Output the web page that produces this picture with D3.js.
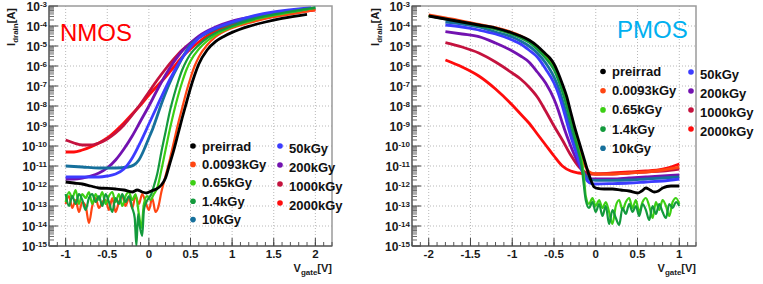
<!DOCTYPE html>
<html>
<head>
<meta charset="utf-8">
<script src="https://cdn.jsdelivr.net/npm/d3@7"></script>
<style>
  body { margin: 0; background: #fff; }
  svg { display: block; }
  text { font-family: "Liberation Sans", Arial, Helvetica, sans-serif; }
</style>
</head>
<body>
<svg id="chart" width="763" height="284"></svg>
<script>
// dose labels, in legend order
var doses = ["preirrad", "0.0093kGy", "0.65kGy", "1.4kGy", "10kGy", "50kGy", "200kGy", "1000kGy", "2000kGy"];
var colors = ["#000000", "#ff4512", "#3ccf14", "#139a3c", "#16709c", "#3c3cff", "#7212b0", "#c4123e", "#ff0c0c"];
var drawOrder = [8, 7, 6, 4, 5, 1, 2, 3, 0];

var xTicksN = [-1, -0.5, 0, 0.5, 1, 1.5, 2];
var xTicksP = [-2, -1.5, -1, -0.5, 0, 0.5, 1];
var yExps = [-15, -14, -13, -12, -11, -10, -9, -8, -7, -6, -5, -4, -3];

// NMOS: [Vgate, log10(Idrain)]
var nmosPre = [[-1,-11.8],[-0.9,-11.85],[-0.8,-11.9],[-0.7,-12.0],[-0.6,-12.1],[-0.5,-12.12],[-0.4,-12.15],[-0.3,-12.2],[-0.2,-12.3],[-0.14,-12.2],[-0.08,-12.3],[-0.03,-12.35],[0.03,-12.25],[0.09,-12.15],[0.15,-11.95],[0.2,-11.6],[0.25,-10.9],[0.3,-10.2],[0.35,-9.4],[0.4,-8.6],[0.45,-7.85],[0.5,-7.1],[0.55,-6.45],[0.6,-5.9],[0.7,-5.2],[0.8,-4.78],[0.9,-4.52],[1.0,-4.32],[1.2,-4.02],[1.4,-3.8],[1.6,-3.62],[1.9,-3.42]];
var nmos0093 = [[-1,-12.9],[-0.96,-12.5],[-0.92,-13.1],[-0.88,-12.7],[-0.84,-13.3],[-0.8,-12.8],[-0.76,-13.0],[-0.72,-13.85],[-0.68,-13.0],[-0.64,-12.6],[-0.6,-13.1],[-0.56,-12.8],[-0.52,-12.7],[-0.48,-13.2],[-0.44,-12.6],[-0.4,-13.3],[-0.36,-12.8],[-0.32,-12.5],[-0.28,-13.0],[-0.24,-12.6],[-0.2,-13.1],[-0.16,-12.5],[-0.12,-12.9],[-0.08,-12.4],[-0.04,-12.8],[0,-13.2],[0.04,-12.6],[0.08,-13.3],[0.11,-13.1],[0.15,-12.3],[0.2,-11.5],[0.25,-10.7],[0.3,-9.8],[0.35,-8.9],[0.4,-8.1],[0.45,-7.3],[0.5,-6.6],[0.55,-6.0],[0.6,-5.55],[0.7,-4.95],[0.8,-4.55],[1.0,-4.1],[1.2,-3.85],[1.5,-3.55],[1.8,-3.35],[2.0,-3.2]];
var nmos065 = [[-1,-12.8],[-0.96,-12.3],[-0.92,-12.6],[-0.88,-12.2],[-0.84,-12.9],[-0.8,-12.4],[-0.76,-12.6],[-0.72,-12.3],[-0.68,-12.9],[-0.64,-12.4],[-0.6,-12.7],[-0.56,-12.3],[-0.52,-12.9],[-0.48,-12.5],[-0.44,-12.3],[-0.4,-12.8],[-0.36,-12.4],[-0.32,-13.0],[-0.28,-12.5],[-0.24,-12.3],[-0.2,-12.7],[-0.16,-12.4],[-0.12,-13.4],[-0.09,-14.1],[-0.06,-12.9],[-0.02,-12.5],[0.02,-12.7],[0.06,-12.4],[0.1,-12.1],[0.15,-11.2],[0.2,-10.2],[0.25,-9.2],[0.3,-8.3],[0.35,-7.5],[0.4,-6.8],[0.45,-6.2],[0.5,-5.75],[0.6,-5.15],[0.7,-4.75],[0.8,-4.45],[1.0,-4.05],[1.3,-3.65],[1.6,-3.4],[2.0,-3.1]];
var nmos14 = [[-1,-12.4],[-0.96,-13.0],[-0.92,-12.5],[-0.88,-12.9],[-0.84,-12.4],[-0.8,-12.7],[-0.76,-13.2],[-0.72,-12.6],[-0.68,-12.4],[-0.64,-12.8],[-0.6,-12.5],[-0.56,-13.0],[-0.52,-12.4],[-0.48,-12.8],[-0.44,-13.3],[-0.4,-12.6],[-0.36,-12.9],[-0.32,-12.4],[-0.28,-12.8],[-0.24,-12.5],[-0.2,-13.1],[-0.17,-13.6],[-0.15,-15.0],[-0.13,-13.4],[-0.11,-14.0],[-0.08,-14.5],[-0.06,-13.2],[-0.03,-12.8],[0,-12.6],[0.03,-12.4],[0.06,-12.0],[0.1,-11.4],[0.15,-10.3],[0.2,-9.3],[0.25,-8.3],[0.3,-7.5],[0.35,-6.8],[0.4,-6.2],[0.45,-5.75],[0.5,-5.4],[0.6,-4.95],[0.7,-4.6],[0.8,-4.35],[1.0,-4.0],[1.3,-3.6],[1.6,-3.35],[2.0,-3.08]];
var nmos10 = [[-1,-11.0],[-0.8,-11.05],[-0.6,-11.1],[-0.4,-11.1],[-0.25,-11.05],[-0.18,-10.95],[-0.12,-10.7],[-0.06,-10.2],[0,-9.6],[0.05,-9.1],[0.1,-8.5],[0.15,-7.9],[0.2,-7.35],[0.25,-6.85],[0.3,-6.4],[0.35,-6.0],[0.4,-5.6],[0.45,-5.25],[0.5,-4.95],[0.6,-4.6],[0.8,-4.15],[1.0,-3.85],[1.3,-3.55],[1.6,-3.35],[2.0,-3.1]];
var nmos50 = [[-1,-11.55],[-0.8,-11.55],[-0.6,-11.55],[-0.5,-11.5],[-0.4,-11.4],[-0.3,-11.15],[-0.2,-10.6],[-0.1,-9.8],[0,-8.9],[0.1,-8.0],[0.2,-7.1],[0.3,-6.3],[0.4,-5.6],[0.5,-5.05],[0.6,-4.6],[0.7,-4.3],[0.8,-4.1],[1.0,-3.8],[1.2,-3.55],[1.5,-3.3],[1.8,-3.15],[1.95,-3.1]];
var nmos200 = [[-1,-11.65],[-0.9,-11.65],[-0.8,-11.6],[-0.7,-11.5],[-0.6,-11.35],[-0.5,-11.1],[-0.4,-10.7],[-0.3,-10.15],[-0.2,-9.5],[-0.1,-8.75],[0,-8.0],[0.1,-7.2],[0.2,-6.45],[0.3,-5.8],[0.4,-5.25],[0.5,-4.85],[0.6,-4.5],[0.8,-4.05],[1.0,-3.75],[1.3,-3.5],[1.6,-3.3],[1.95,-3.12]];
var nmos1000 = [[-1,-9.7],[-0.9,-9.85],[-0.8,-9.95],[-0.7,-9.95],[-0.6,-9.85],[-0.5,-9.65],[-0.4,-9.35],[-0.3,-8.95],[-0.2,-8.45],[-0.1,-7.9],[0,-7.3],[0.1,-6.7],[0.2,-6.15],[0.3,-5.65],[0.4,-5.2],[0.5,-4.85],[0.6,-4.55],[0.8,-4.15],[1.0,-3.85],[1.3,-3.55],[1.6,-3.35],[1.95,-3.15]];
var nmos2000 = [[-1,-10.3],[-0.9,-10.3],[-0.8,-10.2],[-0.7,-10.05],[-0.6,-9.85],[-0.5,-9.6],[-0.4,-9.25],[-0.3,-8.85],[-0.2,-8.4],[-0.1,-7.95],[0,-7.45],[0.1,-7.0],[0.2,-6.55],[0.3,-6.05],[0.4,-5.55],[0.5,-5.15],[0.6,-4.8],[0.7,-4.5],[0.8,-4.28],[1.0,-3.95],[1.2,-3.75],[1.5,-3.5],[1.8,-3.3],[2.0,-3.2]];

// PMOS: [Vgate, log10(Idrain)]
var pmosPre = [[-2,-3.5],[-1.8,-3.65],[-1.6,-3.8],[-1.4,-3.95],[-1.2,-4.1],[-1.0,-4.35],[-0.9,-4.5],[-0.8,-4.7],[-0.7,-5.0],[-0.6,-5.4],[-0.55,-5.6],[-0.5,-5.9],[-0.45,-6.35],[-0.4,-6.9],[-0.35,-7.5],[-0.3,-8.3],[-0.25,-9.1],[-0.2,-9.8],[-0.15,-10.5],[-0.1,-11.2],[-0.05,-11.8],[-0.02,-12.05],[0.02,-12.12],[0.1,-12.15],[0.2,-12.15],[0.3,-12.2],[0.4,-12.25],[0.5,-12.35],[0.55,-12.25],[0.6,-12.1],[0.65,-12.2],[0.7,-12.3],[0.75,-12.25],[0.8,-12.1],[0.9,-12.0],[1.0,-12.0]];
var pmos0093 = [[-2,-3.45],[-1.8,-3.6],[-1.6,-3.75],[-1.4,-3.92],[-1.2,-4.08],[-1.0,-4.33],[-0.9,-4.5],[-0.8,-4.72],[-0.7,-5.05],[-0.6,-5.5],[-0.5,-6.05],[-0.45,-6.5],[-0.4,-7.1],[-0.35,-7.8],[-0.3,-8.55],[-0.25,-9.3],[-0.2,-10.05],[-0.15,-10.75],[-0.1,-11.2],[-0.05,-11.35],[0,-11.4],[0.2,-11.4],[0.4,-11.35],[0.6,-11.3],[0.8,-11.2],[1.0,-11.05]];
var pmos065 = [[-2,-3.5],[-1.8,-3.65],[-1.6,-3.8],[-1.4,-3.97],[-1.2,-4.15],[-1.0,-4.4],[-0.9,-4.57],[-0.8,-4.78],[-0.7,-5.1],[-0.6,-5.55],[-0.5,-6.1],[-0.45,-6.55],[-0.4,-7.15],[-0.35,-7.85],[-0.3,-8.65],[-0.25,-9.45],[-0.2,-10.25],[-0.16,-10.9],[-0.14,-11.6],[-0.12,-12.5],[-0.08,-12.9],[-0.04,-12.6],[0,-13.0],[0.04,-12.7],[0.08,-13.1],[0.12,-12.8],[0.16,-13.3],[0.2,-13.9],[0.24,-13.0],[0.28,-12.7],[0.32,-13.2],[0.36,-12.8],[0.4,-12.6],[0.44,-13.1],[0.48,-12.7],[0.52,-13.3],[0.56,-12.8],[0.6,-12.6],[0.64,-13.0],[0.68,-13.6],[0.72,-12.8],[0.76,-13.2],[0.8,-12.7],[0.84,-13.0],[0.88,-13.5],[0.92,-12.8],[0.96,-12.6],[1.0,-12.9]];
var pmos14 = [[-2,-3.5],[-1.8,-3.66],[-1.6,-3.82],[-1.4,-3.99],[-1.2,-4.17],[-1.0,-4.42],[-0.9,-4.6],[-0.8,-4.82],[-0.7,-5.17],[-0.6,-5.62],[-0.5,-6.2],[-0.45,-6.7],[-0.4,-7.3],[-0.35,-8.0],[-0.3,-8.8],[-0.25,-9.6],[-0.2,-10.4],[-0.17,-11.0],[-0.15,-11.7],[-0.12,-12.7],[-0.08,-13.1],[-0.04,-12.8],[0,-13.3],[0.04,-12.9],[0.08,-13.5],[0.12,-13.0],[0.16,-13.9],[0.2,-13.2],[0.24,-13.6],[0.28,-13.95],[0.32,-13.1],[0.36,-13.4],[0.4,-12.9],[0.44,-13.3],[0.48,-13.0],[0.52,-13.5],[0.56,-12.9],[0.6,-13.2],[0.64,-13.7],[0.68,-13.0],[0.72,-13.4],[0.76,-12.9],[0.8,-13.3],[0.84,-13.6],[0.88,-12.9],[0.92,-13.1],[0.96,-12.8],[1.0,-13.0]];
var pmos10 = [[-1.8,-3.8],[-1.6,-3.9],[-1.4,-4.05],[-1.2,-4.3],[-1.0,-4.55],[-0.9,-4.75],[-0.8,-5.0],[-0.7,-5.35],[-0.6,-5.85],[-0.5,-6.55],[-0.45,-7.05],[-0.4,-7.7],[-0.35,-8.4],[-0.3,-9.2],[-0.25,-9.95],[-0.2,-10.65],[-0.15,-11.3],[-0.1,-11.6],[-0.05,-11.7],[0,-11.72],[0.2,-11.72],[0.4,-11.7],[0.6,-11.65],[0.8,-11.6],[1.0,-11.55]];
var pmos50 = [[-1.8,-3.95],[-1.6,-4.05],[-1.4,-4.2],[-1.2,-4.4],[-1.0,-4.7],[-0.9,-4.9],[-0.8,-5.2],[-0.7,-5.55],[-0.6,-6.15],[-0.5,-6.85],[-0.45,-7.35],[-0.4,-8.0],[-0.35,-8.75],[-0.3,-9.5],[-0.25,-10.15],[-0.2,-10.8],[-0.15,-11.4],[-0.1,-11.75],[-0.05,-11.88],[0,-11.9],[0.2,-11.88],[0.4,-11.85],[0.6,-11.8],[0.8,-11.75],[1.0,-11.65]];
var pmos200 = [[-1.8,-4.28],[-1.6,-4.4],[-1.4,-4.53],[-1.2,-4.85],[-1.0,-5.25],[-0.9,-5.5],[-0.8,-5.8],[-0.7,-6.3],[-0.6,-6.85],[-0.5,-7.65],[-0.45,-8.2],[-0.4,-8.85],[-0.35,-9.45],[-0.3,-10.0],[-0.25,-10.5],[-0.2,-10.95],[-0.15,-11.3],[-0.1,-11.55],[-0.05,-11.65],[0,-11.65],[0.2,-11.65],[0.4,-11.6],[0.6,-11.55],[0.8,-11.5],[1.0,-11.45]];
var pmos1000 = [[-1.8,-4.83],[-1.6,-5.05],[-1.4,-5.35],[-1.2,-5.8],[-1.0,-6.35],[-0.9,-6.65],[-0.8,-7.05],[-0.7,-7.55],[-0.6,-8.25],[-0.5,-9.0],[-0.4,-9.7],[-0.3,-10.45],[-0.2,-11.05],[-0.1,-11.35],[0,-11.4],[0.2,-11.4],[0.4,-11.35],[0.6,-11.3],[0.8,-11.25],[1.0,-11.15]];
var pmos2000 = [[-1.8,-5.7],[-1.6,-6.05],[-1.4,-6.5],[-1.2,-7.15],[-1.0,-7.95],[-0.9,-8.4],[-0.8,-8.85],[-0.7,-9.4],[-0.6,-9.95],[-0.5,-10.5],[-0.4,-11.0],[-0.3,-11.25],[-0.2,-11.35],[-0.1,-11.4],[0,-11.4],[0.2,-11.35],[0.4,-11.3],[0.6,-11.25],[0.8,-11.15],[0.9,-11.05],[1.0,-10.9]];

var nmosCurves = [nmosPre, nmos0093, nmos065, nmos14, nmos10, nmos50, nmos200, nmos1000, nmos2000];
var pmosCurves = [pmosPre, pmos0093, pmos065, pmos14, pmos10, pmos50, pmos200, pmos1000, pmos2000];

var svg = d3.select("#chart");
var top0 = 6, bottom0 = 246;

var panels = [
    { id: "nmos", left: 49, right: 332, dom: [-1.2, 2.2], ticks: xTicksN, curves: nmosCurves,
      name: "NMOS", nameColor: "#ff0000", nameX: 60, nameY: 41,
      titleX: 15, leg: { x1: 193, x2: 280, y1: 146, y2: 146, dy1: 18.4, dy2: 19, t2off: 2 } },
    { id: "pmos", left: 412, right: 696, dom: [-2.2, 1.2], ticks: xTicksP, curves: pmosCurves,
      name: "PMOS", nameColor: "#00b0f0", nameX: 617, nameY: 38,
      titleX: 379, leg: { x1: 603, x2: 691, y1: 71.5, y2: 72, dy1: 19.2, dy2: 19, t2off: 2 } }
];

var y = d3.scaleLog().domain([1e-15, 1e-3]).range([bottom0, top0]);

panels.forEach(function (p) {
    var x = d3.scaleLinear().domain(p.dom).range([p.left, p.right]);
    var g = svg.append("g").attr("id", p.id);

    // dotted grid
    g.selectAll(".gx").data(p.ticks).enter().append("line")
        .attr("x1", d => x(d)).attr("x2", d => x(d))
        .attr("y1", top0).attr("y2", bottom0)
        .attr("stroke", "#b8b8b8").attr("stroke-width", 1).attr("stroke-dasharray", "1,2");
    g.selectAll(".gy").data(yExps.slice(1, -1)).enter().append("line")
        .attr("x1", p.left).attr("x2", p.right)
        .attr("y1", d => y(Math.pow(10, d))).attr("y2", d => y(Math.pow(10, d)))
        .attr("stroke", "#b8b8b8").attr("stroke-width", 1).attr("stroke-dasharray", "1,2");

    // frame
    g.append("rect").attr("x", p.left).attr("y", top0)
        .attr("width", p.right - p.left).attr("height", bottom0 - top0)
        .attr("fill", "none").attr("stroke", "#9a9a9a").attr("stroke-width", 1.5);

    // curves
    var clipId = "clip-" + p.id;
    g.append("clipPath").attr("id", clipId).append("rect")
        .attr("x", p.left).attr("y", top0).attr("width", p.right - p.left).attr("height", bottom0 - top0);
    var line = d3.line()
        .x(d => x(d[0]))
        .y(d => y(Math.pow(10, d[1])))
        .curve(d3.curveMonotoneX);
    var cg = g.append("g").attr("clip-path", "url(#" + clipId + ")");
    drawOrder.forEach(function (i) {
        cg.append("path")
            .datum(p.curves[i])
            .attr("d", line)
            .attr("fill", "none")
            .attr("stroke", colors[i])
            .attr("stroke-width", (i === 2 || i === 3 || (i === 1 && p.id === "nmos")) ? 2.2 : 2.8)
            .attr("stroke-linejoin", "round");
    });

    // axes lines
    g.append("line").attr("x1", p.left).attr("x2", p.left).attr("y1", top0).attr("y2", bottom0)
        .attr("stroke", "#444").attr("stroke-width", 1);
    g.append("line").attr("x1", p.left).attr("x2", p.right).attr("y1", bottom0).attr("y2", bottom0)
        .attr("stroke", "#444").attr("stroke-width", 1);

    // y ticks (major + minor, inward)
    var yMinor = [];
    yExps.slice(0, -1).forEach(function (e) {
        for (var k = 2; k < 10; k++) yMinor.push(k * Math.pow(10, e));
    });
    g.selectAll(".ymin").data(yMinor).enter().append("line")
        .attr("x1", p.left).attr("x2", p.left + 5)
        .attr("y1", d => y(d)).attr("y2", d => y(d))
        .attr("stroke", "#666").attr("stroke-width", 1);
    g.selectAll(".ymaj").data(yExps).enter().append("line")
        .attr("x1", p.left).attr("x2", p.left + 9)
        .attr("y1", d => y(Math.pow(10, d))).attr("y2", d => y(Math.pow(10, d)))
        .attr("stroke", "#444").attr("stroke-width", 1);

    // x ticks
    var xMinor = d3.range(Math.round(p.dom[0] * 10), Math.round(p.dom[1] * 10) + 1).map(d => d / 10);
    g.selectAll(".xmin").data(xMinor).enter().append("line")
        .attr("x1", d => x(d)).attr("x2", d => x(d))
        .attr("y1", bottom0).attr("y2", bottom0 - 4)
        .attr("stroke", "#555").attr("stroke-width", 1);
    g.selectAll(".xmaj").data(p.ticks).enter().append("line")
        .attr("x1", d => x(d)).attr("x2", d => x(d))
        .attr("y1", bottom0).attr("y2", bottom0 - 8)
        .attr("stroke", "#444").attr("stroke-width", 1);

    // tick labels
    g.selectAll(".xl").data(p.ticks).enter().append("text")
        .attr("x", d => x(d)).attr("y", bottom0 + 12)
        .attr("text-anchor", "middle").attr("font-size", 11.5).attr("font-weight", "bold")
        .attr("fill", "#1a1a1a")
        .text(d => String(d));
    var yl = g.selectAll(".yl").data(yExps).enter().append("text")
        .attr("x", p.left - 2).attr("y", d => y(Math.pow(10, d)) + 4.6)
        .attr("text-anchor", "end").attr("font-size", 12).attr("font-weight", "bold")
        .attr("fill", "#1a1a1a");
    yl.append("tspan").text("10");
    yl.append("tspan").attr("dy", -3.8).attr("font-size", 8).text(d => "-" + Math.abs(d));

    // axis titles
    var yt = g.append("text")
        .attr("transform", "translate(" + p.titleX + "," + (top0 + 2) + ") rotate(-90)")
        .attr("text-anchor", "end").attr("font-size", 11).attr("font-weight", "bold").attr("fill", "#1a1a1a");
    yt.append("tspan").text("I");
    yt.append("tspan").attr("dy", 3).attr("font-size", 8).text("drain");
    yt.append("tspan").attr("dy", -3).text("[A]");
    var xt = g.append("text")
        .attr("x", p.right).attr("y", 272)
        .attr("text-anchor", "end").attr("font-size", 11).attr("font-weight", "bold").attr("fill", "#1a1a1a");
    xt.append("tspan").text("V");
    xt.append("tspan").attr("dy", 3).attr("font-size", 8).text("gate");
    xt.append("tspan").attr("dy", -3).text("[V]");

    // big panel name
    g.append("text").attr("x", p.nameX).attr("y", p.nameY)
        .attr("font-size", 24).attr("fill", p.nameColor).text(p.name);

    // legend
    var L = p.leg;
    doses.forEach(function (name, i) {
        var col2 = i >= 5;
        var mx = col2 ? L.x2 : L.x1;
        var my = col2 ? L.y2 + (i - 5) * L.dy2 : L.y1 + i * L.dy1;
        var ty = my + (col2 ? L.t2off : 0);
        g.append("circle").attr("cx", mx).attr("cy", my).attr("r", 2.8).attr("fill", colors[i]);
        g.append("text").attr("x", mx + 9).attr("y", ty + 4.5)
            .attr("font-size", 13).attr("font-weight", "bold").attr("fill", "#111")
            .text(name);
    });
});
</script>
</body>
</html>
